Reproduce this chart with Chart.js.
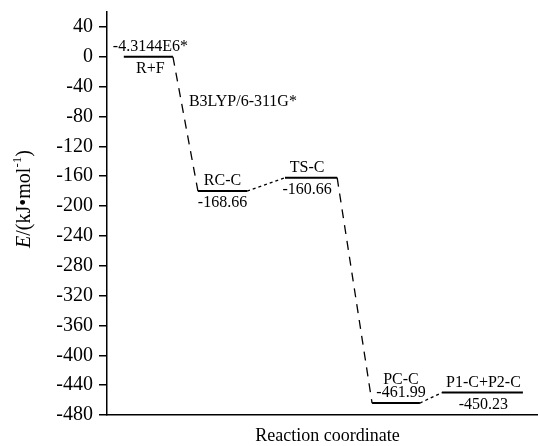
<!DOCTYPE html>
<html>
<head>
<meta charset="utf-8">
<script src="https://cdn.jsdelivr.net/npm/chart.js@4.4.1/dist/chart.umd.min.js"></script>
<style>
  html, body { margin: 0; padding: 0; background: #fff; }
  #wrap { width: 538px; height: 446px; }
</style>
</head>
<body>
<div id="wrap"><canvas id="c" width="538" height="446"></canvas></div>
<script>
// ---- data ----
const levelNames = ['R+F', 'RC-C', 'TS-C', 'PC-C', 'P1-C+P2-C'];
const levelValueLabels = ['-4.3144E6*', '-168.66', '-160.66', '-461.99', '-450.23'];
// drawn level heights (kJ/mol)
const levelEnergies = [0, -180, -162, -464, -450];
// reaction-coordinate extent of each level (0..100)
const levelStart = [3.9, 21.1, 41.3, 61.5, 77.7];
const levelEnd   = [15.3, 32.5, 53.4, 72.6, 96.5];
// connector styles between consecutive levels
const connectorStyle = ['long', 'short', 'long', 'short'];
const yTicks = [40, 0, -40, -80, -120, -160, -200, -240, -280, -320, -360, -400, -440, -480];
const methodLabel = 'B3LYP/6-311G*';
const xTitle = 'Reaction coordinate';

// text stacked above / below each level line (built from the arrays)
const textAbove = [
  [levelValueLabels[0]],
  [levelNames[1]],
  [levelNames[2]],
  [levelNames[3], levelValueLabels[3]],
  [levelNames[4]]
];
const textBelow = [
  [levelNames[0]],
  [levelValueLabels[1]],
  [levelValueLabels[2]],
  [],
  [levelValueLabels[4]]
];
const textShift = [2, 0, -4, 5, 1];

// ---- datasets ----
const datasets = [];
levelNames.forEach((n, i) => {
  datasets.push({
    label: n,
    data: [{x: levelStart[i], y: levelEnergies[i]}, {x: levelEnd[i], y: levelEnergies[i]}],
    showLine: true, borderColor: '#000', borderWidth: 2, pointRadius: 0
  });
});
connectorStyle.forEach((s, i) => {
  datasets.push({
    label: 'c' + i,
    data: [{x: levelEnd[i], y: levelEnergies[i]}, {x: levelStart[i + 1], y: levelEnergies[i + 1]}],
    showLine: true, borderColor: '#000', borderWidth: 1.3, pointRadius: 0,
    borderDash: s === 'long' ? [9, 7] : [3, 3]
  });
});

const SERIF = '"Liberation Serif", "Times New Roman", serif';

const labelPlugin = {
  id: 'labels',
  afterDatasetsDraw(chart) {
    const ctx = chart.ctx;
    const xs = chart.scales.x, ys = chart.scales.y;
    ctx.save();
    ctx.fillStyle = '#000';
    ctx.font = '16px ' + SERIF;
    ctx.textAlign = 'center';
    ctx.textBaseline = 'middle';
    levelNames.forEach((n, i) => {
      const cx = (xs.getPixelForValue(levelStart[i]) + xs.getPixelForValue(levelEnd[i])) / 2 + textShift[i];
      const py = ys.getPixelForValue(levelEnergies[i]);
      const above = textAbove[i];
      above.forEach((t, k) => {
        const off = -10 - (above.length - 1 - k) * 13;
        ctx.fillText(t, cx, py + off);
      });
      textBelow[i].forEach((t, k) => {
        ctx.fillText(t, cx, py + 12 + k * 14);
      });
    });
    // method label
    ctx.textAlign = 'left';
    ctx.fillText(methodLabel, xs.getPixelForValue(19), ys.getPixelForValue(-60));
    // x title
    ctx.font = '18px ' + SERIF;
    ctx.textAlign = 'center';
    ctx.fillText(xTitle, (chart.chartArea.left + chart.chartArea.right) / 2 + 5, 436);
    // y title with italic E and superscript
    const parts = [
      {t: 'E', f: 'italic 20px ' + SERIF, dy: 0},
      {t: '/(kJ\u2022mol', f: '20px ' + SERIF, dy: 0},
      {t: '-1', f: '13px ' + SERIF, dy: -7},
      {t: ')', f: '20px ' + SERIF, dy: 0}
    ];
    let total = 0;
    parts.forEach(p => { ctx.font = p.f; p.w = ctx.measureText(p.t).width; total += p.w; });
    ctx.translate(25, 199);
    ctx.rotate(-Math.PI / 2);
    ctx.textAlign = 'left';
    let x = -total / 2;
    parts.forEach(p => { ctx.font = p.f; ctx.fillText(p.t, x, p.dy); x += p.w; });
    ctx.restore();
  }
};

new Chart(document.getElementById('c'), {
  type: 'scatter',
  data: { datasets },
  options: {
    responsive: false,
    animation: false,
    devicePixelRatio: 1,
    layout: { padding: { top: 12, right: 0, left: 0, bottom: 0 } },
    plugins: { legend: { display: false }, tooltip: { enabled: false } },
    scales: {
      x: {
        type: 'linear', min: 0, max: 100,
        ticks: { display: false },
        grid: { display: false },
        border: { display: true, color: '#000', width: 1.5 },
        afterFit: s => { s.height = 31; s.paddingLeft = 0; s.paddingRight = 0; }
      },
      y: {
        type: 'linear', min: -480, max: 60,
        afterBuildTicks: s => { s.ticks = yTicks.map(v => ({value: v})); },
        ticks: { color: '#000', font: { family: SERIF, size: 20 }, padding: 6 },
        grid: { drawOnChartArea: false, drawTicks: true, tickLength: 8, color: '#000', lineWidth: 1.5 },
        border: { display: true, color: '#000', width: 1.5 },
        afterFit: s => { s.width = 107; s.paddingTop = 0; s.paddingBottom = 0; }
      }
    }
  },
  plugins: [labelPlugin]
});
</script>
</body>
</html>
